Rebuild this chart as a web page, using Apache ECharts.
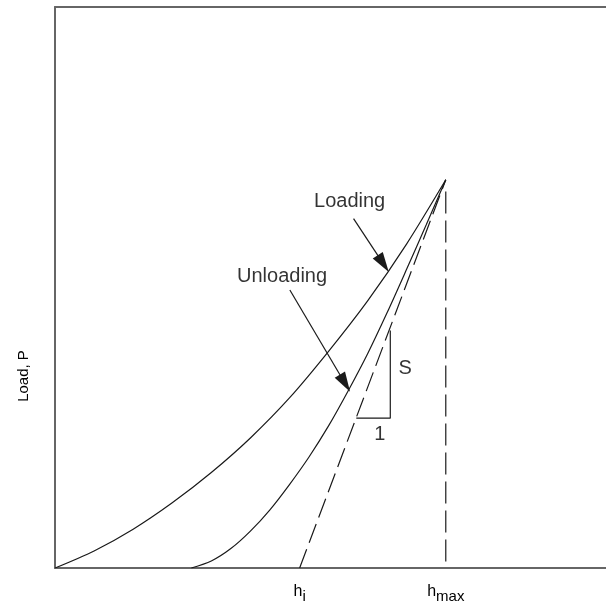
<!DOCTYPE html>
<html>
<head>
<meta charset="utf-8">
<script src="https://cdn.jsdelivr.net/npm/echarts@6/dist/echarts.min.js"></script>
<style>html,body{margin:0;padding:0;background:#fff}#c{width:606px;height:604px}</style>
</head>
<body>
<div id="c"></div>
<script>
// Depth h (hmax = 100) and load P (Pmax = 100)
const loadingH = [0, 10, 20, 30, 40, 50, 60, 70, 80, 90, 100];
const loadingP = [0, 4.4, 10.0, 16.8, 24.6, 33.5, 43.8, 55.8, 68.8, 83.5, 100];
const unloadingH = [34.9, 40, 45, 50, 55, 60, 65, 70, 75, 80, 85, 90, 95, 100];
const unloadingP = [0, 1.8, 5.0, 9.5, 15.0, 21.5, 28.6, 36.6, 45.6, 55.2, 65.8, 77.0, 88.4, 100];
const hi = 62.6;
const hmax = 100;
const pmax = 100;
const hmaxLineTop = 97;
const tangentH = [hi, hmax];
const tangentP = [0, pmax];
const slopeH = [77.1, 85.8, 85.8];
const slopeP = [38.6, 38.6, 61.2];
const tickValues = [hi, hmax];
const tickLabels = ['{h|h}{s|i}', '{h|h}{s|max}'];
const annotNames = ['Loading', 'Unloading', 'S', '1'];
const annotH = [75.4, 58.1, 89.6, 83.1];
const annotP = [94.5, 75.1, 51.4, 34.4];
const arrowFrom = [[76.4, 90.0], [60.1, 71.6]];
const arrowTo = [[84.0, 78.4], [74.2, 47.6]];
const xMax = 141, yMax = 144.5;

const zip = (a, b) => a.map((v, i) => [v, b[i]]);
const lineCol = '#1a1a1a';
const txtCol = '#000';
const font = 'Liberation Sans, Arial';
const chart = echarts.init(document.getElementById('c'), null, {renderer: 'canvas'});
chart.setOption({
  animation: false,
  grid: {left: 55, right: 0, top: 7, bottom: 35},
  xAxis: [{
    type: 'value', min: 0, max: xMax, position: 'bottom',
    axisLine: {show: true, lineStyle: {color: '#666', width: 2}},
    axisTick: {show: false}, splitLine: {show: false},
    axisLabel: {
      show: true, customValues: tickValues, margin: 11,
      formatter: (v) => tickLabels[tickValues.indexOf(v)] || '',
      rich: {
        h: {fontSize: 16, fontFamily: font, color: txtCol},
        s: {fontSize: 15, fontFamily: font, color: txtCol, padding: [10, 0, 0, 0]}
      }
    }
  }, {
    type: 'value', min: 0, max: xMax, position: 'top',
    axisLine: {show: true, lineStyle: {color: '#666', width: 2}},
    axisTick: {show: false}, splitLine: {show: false}, axisLabel: {show: false}
  }],
  yAxis: {
    type: 'value', min: 0, max: yMax,
    axisLine: {show: true, lineStyle: {color: '#666', width: 2}},
    axisTick: {show: false}, splitLine: {show: false}, axisLabel: {show: false}
  },
  graphic: [{
    type: 'text', x: 24, y: 376, rotation: Math.PI / 2,
    style: {text: 'Load, P', fontSize: 15, fontFamily: font, fill: txtCol,
      align: 'center', verticalAlign: 'middle'}
  }],
  series: [
    {type: 'line', data: zip(loadingH, loadingP), smooth: 0.3, symbol: 'none',
     lineStyle: {color: lineCol, width: 1.2}},
    {type: 'line', data: zip(unloadingH, unloadingP), smooth: 0.3, symbol: 'none',
     lineStyle: {color: lineCol, width: 1.2}},
    {type: 'line', data: zip(tangentH, tangentP), symbol: 'none',
     lineStyle: {color: lineCol, width: 1.2, type: [20, 7]}},
    {type: 'line', data: [[hmax, hmaxLineTop], [hmax, 0]], symbol: 'none',
     lineStyle: {color: lineCol, width: 1.2, type: [22, 7]}},
    {type: 'line', data: zip(slopeH, slopeP), symbol: 'none',
     lineStyle: {color: lineCol, width: 1.2},
     markLine: {
       silent: true, symbol: ['none', 'triangle'], symbolSize: [12, 20],
       lineStyle: {color: lineCol, width: 1.2, type: 'solid'},
       itemStyle: {color: '#000'},
       label: {show: false},
       data: arrowFrom.map((f, i) => [{coord: f}, {coord: arrowTo[i]}])
     }},
    {type: 'scatter', symbolSize: 0,
     data: annotNames.map((n, i) => ({name: n, value: [annotH[i], annotP[i]]})),
     label: {show: true, position: 'inside', formatter: (p) => p.name,
       fontSize: 20, fontFamily: font, color: txtCol}}
  ]
});
</script>
</body>
</html>
